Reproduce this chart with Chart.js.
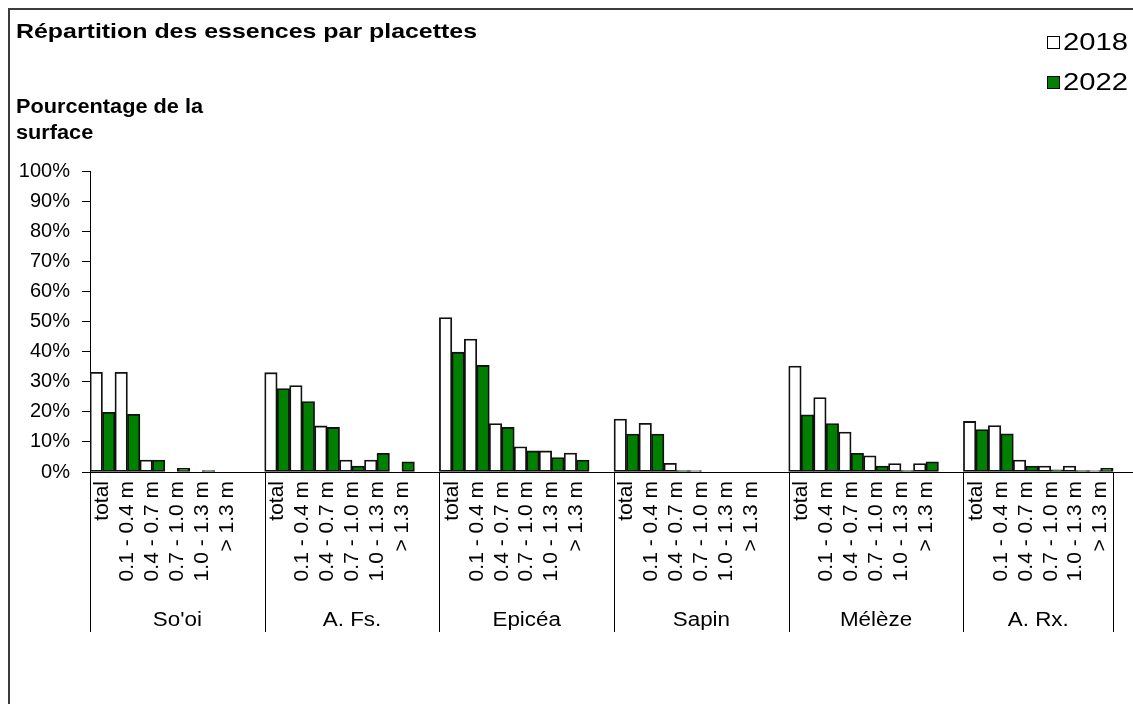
<!DOCTYPE html>
<html><head><meta charset="utf-8">
<script src="https://cdn.jsdelivr.net/npm/chart.js@4.4.0/dist/chart.umd.min.js"></script>
<style>
html,body{margin:0;padding:0;background:#fff;overflow:hidden;width:1133px;height:704px}
#wrap{position:absolute;left:0;top:0;width:1160px;height:704px}
</style></head>
<body>
<div id="wrap"><canvas id="c" width="1160" height="704"></canvas></div>
<script>
// ---- data ----
const groups = ["So'oi", "A. Fs.", "Epicéa", "Sapin", "Mélèze", "A. Rx."];
const classes = ["total", "0.1 - 0.4 m", "0.4 - 0.7 m", "0.7 - 1.0 m", "1.0 - 1.3 m", "> 1.3 m"];
const seriesNames = ["2018", "2022"];
const yTicks = [0,10,20,30,40,50,60,70,80,90,100];

const soOi2018   = [33.1, 33.1, 4.0, 0, 0, 0];
const soOi2022   = [19.8, 19.2, 4.0, 1.2, 0.5, 0];
const aFs2018    = [33.0, 28.7, 15.3, 4.0, 4.0, 0];
const aFs2022    = [27.7, 23.4, 14.8, 2.0, 6.2, 3.4];
const epicea2018 = [51.3, 44.2, 16.1, 8.4, 7.0, 6.3];
const epicea2022 = [39.8, 35.4, 14.8, 7.0, 4.8, 4.0];
const sapin2018  = [17.6, 16.2, 2.9, 0.5, 0, 0];
const sapin2022  = [12.6, 12.6, 0.5, 0, 0, 0];
const meleze2018 = [35.2, 24.7, 13.3, 5.4, 2.8, 2.8];
const meleze2022 = [19.0, 16.1, 6.2, 2.0, 0.5, 3.4];
const aRx2018    = [16.8, 15.4, 4.0, 2.0, 2.0, 0.5];
const aRx2022    = [14.1, 12.7, 2.0, 0.7, 0.5, 1.2];

const by2018 = [soOi2018, aFs2018, epicea2018, sapin2018, meleze2018, aRx2018];
const by2022 = [soOi2022, aFs2022, epicea2022, sapin2022, meleze2022, aRx2022];

// build category table: each group = 6 classes + one empty slot
const labels = [], d2018 = [], d2022 = [];
groups.forEach((g, gi) => {
  classes.forEach((c, ci) => { labels.push(c); d2018.push(by2018[gi][ci]); d2022.push(by2022[gi][ci]); });
  labels.push(""); d2018.push(null); d2022.push(null);
});
const PER = classes.length + 1;

const FONT = "'Liberation Sans', Arial, sans-serif";
const GREEN = '#008000';

function stretchText(ctx, s, x, y, font, align, targetW, sx) {
  ctx.save();
  ctx.font = font;
  const w = ctx.measureText(s).width;
  const k = targetW ? targetW / w : (sx || 1);
  ctx.translate(x, y);
  ctx.scale(k, 1);
  ctx.textAlign = align;
  ctx.textBaseline = 'alphabetic';
  ctx.fillStyle = '#000';
  ctx.fillText(s, 0, 0);
  ctx.restore();
  return k;
}

const decor = {
  id: 'decor',
  beforeDraw(chart) {
    const ctx = chart.ctx;
    ctx.save(); ctx.fillStyle = '#fff'; ctx.fillRect(0, 0, chart.width, chart.height); ctx.restore();
  },
  afterDraw(chart) {
    const ctx = chart.ctx, xs = chart.scales.x, ca = chart.chartArea;
    ctx.save();
    // outer frame
    ctx.strokeStyle = '#3c3c3c'; ctx.lineWidth = 2;
    ctx.beginPath(); ctx.moveTo(9, chart.height + 2); ctx.lineTo(9, 9); ctx.lineTo(chart.width + 2, 9); ctx.stroke();

    // titles
    stretchText(ctx, 'Répartition des essences par placettes', 16, 38, 'bold 21px ' + FONT, 'left', 461);
    const k = stretchText(ctx, 'Pourcentage de la', 16, 113, 'bold 20px ' + FONT, 'left', 187);
    stretchText(ctx, 'surface', 16, 139, 'bold 20px ' + FONT, 'left', null, k);

    // legend
    const legY = [36, 76];
    chart.data.datasets.forEach((ds, i) => {
      ctx.fillStyle = ds.backgroundColor; ctx.strokeStyle = '#000'; ctx.lineWidth = 1;
      ctx.fillRect(1047, legY[i], 13, 13);
      ctx.strokeRect(1047.5, legY[i] + 0.5, 12, 12);
      stretchText(ctx, ds.label, 1063, legY[i] + 14, '24px ' + FONT, 'left', 65);
    });

    // group separators and group labels
    const step = xs.getPixelForValue(1) - xs.getPixelForValue(0);
    const edgeL = i => xs.getPixelForValue(i) - step / 2;
    const edgeR = i => xs.getPixelForValue(i) + step / 2;
    ctx.strokeStyle = '#000'; ctx.lineWidth = 1;
    const seps = [];
    groups.forEach((g, gi) => seps.push(edgeL(gi * PER)));
    seps.push(edgeR((groups.length - 1) * PER + classes.length - 1));
    seps.forEach(x => {
      const xx = Math.round(x) + 0.5;
      ctx.beginPath(); ctx.moveTo(xx, ca.bottom); ctx.lineTo(xx, 632); ctx.stroke();
    });
    groups.forEach((g, gi) => {
      const cx = (seps[gi] + seps[gi + 1]) / 2;
      stretchText(ctx, g, cx, 626, '20px ' + FONT, 'center', null, 1.12);
    });
    ctx.restore();
  }
};

new Chart(document.getElementById('c'), {
  type: 'bar',
  data: {
    labels: labels,
    datasets: [
      { label: seriesNames[0], data: d2018, backgroundColor: '#ffffff', borderColor: '#111', borderWidth: 1.8,
        borderSkipped: false, categoryPercentage: 1, barPercentage: 1 },
      { label: seriesNames[1], data: d2022, backgroundColor: GREEN, borderColor: '#111', borderWidth: 1.8,
        borderSkipped: false, categoryPercentage: 1, barPercentage: 1 }
    ]
  },
  options: {
    responsive: false,
    animation: false,
    devicePixelRatio: 1,
    layout: { padding: { top: 171, left: 0, right: 16, bottom: 0 } },
    plugins: { legend: { display: false }, tooltip: { enabled: false }, title: { display: false } },
    scales: {
      x: {
        grid: { display: false, drawTicks: false },
        border: { display: true, color: '#000', width: 1 },
        ticks: { autoSkip: false, minRotation: 90, maxRotation: 90, padding: 9, color: '#000',
                 font: { family: FONT, size: 21 } },
        afterFit(s) { s.height = 232; }
      },
      y: {
        min: 0, max: 100,
        afterBuildTicks(s) { s.ticks = yTicks.map(v => ({ value: v })); },
        grid: { drawOnChartArea: false, drawTicks: true, tickLength: 8, color: '#000' },
        border: { display: true, color: '#000', width: 1 },
        ticks: { padding: 12, color: '#000', font: { family: FONT, size: 20 }, callback: v => v + '%' },
        afterFit(s) { s.width = 90; }
      }
    }
  },
  plugins: [decor]
});
</script>
</body></html>
